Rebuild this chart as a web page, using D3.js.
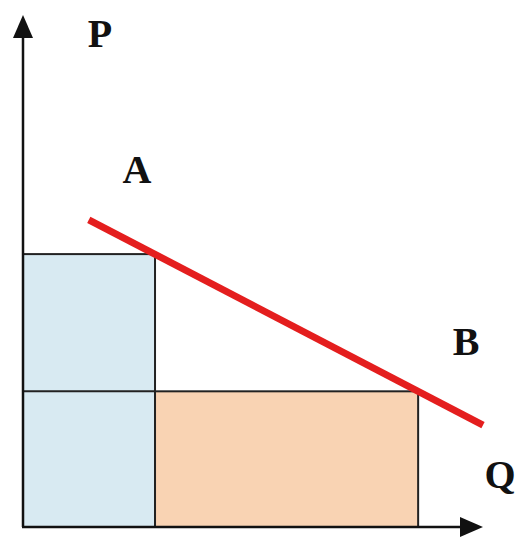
<!DOCTYPE html>
<html>
<head>
<meta charset="utf-8">
<script src="https://cdn.jsdelivr.net/npm/d3@7"></script>
<style>
  body { margin: 0; background: #fff; }
  svg { display: block; }
</style>
</head>
<body>
<svg id="chart"></svg>
<script>
// Demand line points (Q, P)
const demandLine = [
  { q: 1.43, p: 6.0 },
  { q: 10.0, p: 1.99 }
];
// Points on the demand curve
const points = [
  { name: "A", q: 2.87, p: 5.33 },
  { name: "B", q: 8.59, p: 2.65 }
];
const axisLabels = ["P", "Q"];

const width = 515;
const height = 538;

const svg = d3.select("#chart")
  .attr("width", width)
  .attr("height", height);

const x = d3.scaleLinear().domain([0, 10]).range([23, 483]);
const y = d3.scaleLinear().domain([0, 10]).range([527, 15]);

const A = points[0];
const B = points[1];

// blue rectangle: 0..Qa, 0..Pa
svg.append("rect")
  .attr("x", x(0))
  .attr("y", y(A.p))
  .attr("width", x(A.q) - x(0))
  .attr("height", y(0) - y(A.p))
  .attr("fill", "#d8eaf2")
  .attr("stroke", "#222")
  .attr("stroke-width", 2);

// orange rectangle: Qa..Qb, 0..Pb
svg.append("rect")
  .attr("x", x(A.q))
  .attr("y", y(B.p))
  .attr("width", x(B.q) - x(A.q))
  .attr("height", y(0) - y(B.p))
  .attr("fill", "#f9d3b3")
  .attr("stroke", "#222")
  .attr("stroke-width", 2);

// line across the blue rect at Pb
svg.append("line")
  .attr("x1", x(0)).attr("x2", x(A.q))
  .attr("y1", y(B.p)).attr("y2", y(B.p))
  .attr("stroke", "#222")
  .attr("stroke-width", 2);

// axes with arrows
svg.append("line")
  .attr("x1", x(0)).attr("y1", y(0))
  .attr("x2", x(0)).attr("y2", y(10) + 20)
  .attr("stroke", "#111").attr("stroke-width", 2.5);
svg.append("path")
  .attr("d", `M${x(0)},${y(10)} L${x(0) - 10},${y(10) + 23} L${x(0) + 10},${y(10) + 23} Z`)
  .attr("fill", "#111");

svg.append("line")
  .attr("x1", x(0) - 1).attr("y1", y(0))
  .attr("x2", x(10) - 20).attr("y2", y(0))
  .attr("stroke", "#111").attr("stroke-width", 2.5);
svg.append("path")
  .attr("d", `M${x(10)},${y(0)} L${x(10) - 23},${y(0) - 10} L${x(10) - 23},${y(0) + 10} Z`)
  .attr("fill", "#111");

// demand line
svg.append("path")
  .datum(demandLine)
  .attr("d", d3.line().x(d => x(d.q)).y(d => y(d.p)))
  .attr("stroke", "#e41e1e")
  .attr("stroke-width", 7)
  .attr("fill", "none");

// labels
const font = "'Liberation Serif', 'Times New Roman', serif";
const labels = [
  { t: axisLabels[0], x: 100, y: 47 },
  { t: A.name, x: 137, y: 183 },
  { t: B.name, x: 466, y: 355 },
  { t: axisLabels[1], x: 500, y: 488 }
];
svg.selectAll("text.lbl")
  .data(labels)
  .enter()
  .append("text")
  .attr("class", "lbl")
  .attr("x", d => d.x)
  .attr("y", d => d.y)
  .attr("text-anchor", "middle")
  .attr("font-family", font)
  .attr("font-weight", "bold")
  .attr("font-size", 40)
  .attr("fill", "#111")
  .text(d => d.t);
</script>
</body>
</html>
